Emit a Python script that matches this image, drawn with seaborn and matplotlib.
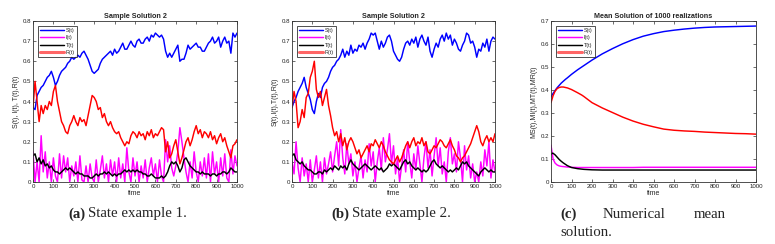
import numpy as np
import pandas as pd
import seaborn as sns
import matplotlib
matplotlib.use("Agg")
import matplotlib.pyplot as plt

# ---------------- data ----------------
t_sample = list(range(0, 1001, 10))

s1_S = [0.37, 0.36, 0.43, 0.45, 0.47, 0.48, 0.50, 0.52, 0.53, 0.55, 0.52, 0.48, 0.50, 0.53, 0.55, 0.56, 0.57, 0.59, 0.60, 0.62,
        0.61, 0.62, 0.63, 0.62, 0.64, 0.65, 0.63, 0.61, 0.58, 0.55, 0.54, 0.55, 0.56, 0.59, 0.61, 0.62, 0.63, 0.64, 0.65, 0.63,
        0.66, 0.64, 0.65, 0.67, 0.69, 0.66, 0.66, 0.68, 0.70, 0.68, 0.67, 0.70, 0.71, 0.69, 0.69, 0.71, 0.72, 0.70, 0.73, 0.72,
        0.74, 0.73, 0.72, 0.73, 0.71, 0.65, 0.62, 0.64, 0.62, 0.64, 0.66, 0.68, 0.60, 0.61, 0.61, 0.64, 0.68, 0.66, 0.67, 0.68,
        0.69, 0.67, 0.67, 0.65, 0.65, 0.67, 0.69, 0.70, 0.72, 0.69, 0.70, 0.72, 0.67, 0.70, 0.72, 0.69, 0.70, 0.64, 0.74, 0.72,
        0.74]
s1_I = [0.15, 0.00, 0.10, 0.00, 0.23, 0.05, 0.15, 0.02, 0.10, 0.00, 0.12, 0.03, 0.00, 0.14, 0.02, 0.13, 0.05, 0.12, 0.00, 0.08,
        0.03, 0.10, 0.00, 0.13, 0.01, 0.00, 0.08, 0.00, 0.09, 0.02, 0.00, 0.11, 0.00, 0.06, 0.13, 0.02, 0.09, 0.00, 0.11, 0.03,
        0.10, 0.00, 0.12, 0.02, 0.09, 0.00, 0.17, 0.05, 0.00, 0.12, 0.03, 0.10, 0.00, 0.08, 0.02, 0.11, 0.00, 0.07, 0.12, 0.03,
        0.09, 0.00, 0.11, 0.03, 0.00, 0.21, 0.10, 0.18, 0.07, 0.03, 0.08, 0.15, 0.27, 0.20, 0.12, 0.05, 0.00, 0.10, 0.02, 0.15,
        0.05, 0.00, 0.10, 0.03, 0.12, 0.02, 0.14, 0.00, 0.15, 0.04, 0.10, 0.00, 0.12, 0.03, 0.14, 0.02, 0.00, 0.16, 0.04, 0.13,
        0.08]
s1_T = [0.13, 0.14, 0.10, 0.12, 0.09, 0.11, 0.08, 0.09, 0.07, 0.08, 0.06, 0.05, 0.05, 0.04, 0.05, 0.06, 0.07, 0.06, 0.07, 0.06,
        0.05, 0.04, 0.05, 0.04, 0.04, 0.03, 0.03, 0.03, 0.02, 0.02, 0.03, 0.04, 0.03, 0.04, 0.04, 0.05, 0.04, 0.05, 0.04, 0.03,
        0.04, 0.03, 0.04, 0.04, 0.05, 0.06, 0.05, 0.06, 0.05, 0.06, 0.05, 0.06, 0.05, 0.05, 0.04, 0.04, 0.03, 0.03, 0.04, 0.03,
        0.02, 0.02, 0.02, 0.03, 0.02, 0.03, 0.05, 0.08, 0.10, 0.09, 0.10, 0.08, 0.05, 0.07, 0.11, 0.12, 0.10, 0.08, 0.07, 0.06,
        0.05, 0.05, 0.04, 0.05, 0.04, 0.04, 0.04, 0.03, 0.04, 0.04, 0.03, 0.04, 0.04, 0.05, 0.05, 0.04, 0.05, 0.07, 0.06, 0.05,
        0.05]
s1_R = [0.37, 0.50, 0.40, 0.30, 0.38, 0.34, 0.38, 0.36, 0.40, 0.38, 0.45, 0.48, 0.40, 0.35, 0.30, 0.28, 0.25, 0.24, 0.28, 0.30,
        0.33, 0.30, 0.28, 0.32, 0.30, 0.31, 0.28, 0.33, 0.38, 0.43, 0.42, 0.40, 0.36, 0.37, 0.32, 0.34, 0.30, 0.28, 0.30, 0.27,
        0.25, 0.24, 0.25, 0.22, 0.20, 0.18, 0.20, 0.19, 0.23, 0.25, 0.24, 0.22, 0.25, 0.23, 0.24, 0.21, 0.25, 0.23, 0.26, 0.22,
        0.24, 0.23, 0.25, 0.27, 0.26, 0.15, 0.20, 0.12, 0.14, 0.18, 0.21, 0.15, 0.09, 0.12, 0.16, 0.20, 0.22, 0.18, 0.21, 0.25,
        0.28, 0.24, 0.26, 0.22, 0.25, 0.24, 0.22, 0.25, 0.21, 0.23, 0.19, 0.22, 0.24, 0.20, 0.22, 0.18, 0.15, 0.12, 0.18, 0.19,
        0.21]

s2_S = [0.37, 0.40, 0.42, 0.45, 0.47, 0.49, 0.52, 0.47, 0.44, 0.41, 0.36, 0.34, 0.40, 0.44, 0.42, 0.47, 0.49, 0.50, 0.52, 0.55,
        0.57, 0.58, 0.60, 0.61, 0.63, 0.66, 0.62, 0.65, 0.63, 0.68, 0.64, 0.66, 0.65, 0.68, 0.67, 0.69, 0.66, 0.69, 0.71, 0.74,
        0.73, 0.74, 0.70, 0.66, 0.70, 0.67, 0.69, 0.72, 0.73, 0.70, 0.65, 0.63, 0.61, 0.60, 0.62, 0.66, 0.69, 0.70, 0.68, 0.71,
        0.69, 0.72, 0.67, 0.71, 0.73, 0.70, 0.68, 0.72, 0.65, 0.62, 0.66, 0.69, 0.67, 0.71, 0.73, 0.70, 0.74, 0.71, 0.73, 0.68,
        0.71, 0.69, 0.66, 0.65, 0.68, 0.70, 0.74, 0.73, 0.69, 0.70, 0.67, 0.62, 0.66, 0.65, 0.69, 0.67, 0.71, 0.65, 0.70, 0.72,
        0.71]
s2_I = [0.10, 0.04, 0.20, 0.07, 0.00, 0.12, 0.03, 0.09, 0.00, 0.11, 0.00, 0.06, 0.13, 0.02, 0.10, 0.00, 0.12, 0.04, 0.09, 0.15,
        0.05, 0.13, 0.20, 0.08, 0.26, 0.12, 0.04, 0.19, 0.09, 0.14, 0.03, 0.10, 0.00, 0.07, 0.13, 0.02, 0.11, 0.05, 0.19, 0.08,
        0.15, 0.00, 0.10, 0.17, 0.06, 0.22, 0.10, 0.16, 0.24, 0.09, 0.18, 0.04, 0.12, 0.00, 0.08, 0.16, 0.05, 0.20, 0.10, 0.02,
        0.14, 0.06, 0.18, 0.09, 0.00, 0.12, 0.20, 0.07, 0.16, 0.03, 0.13, 0.22, 0.08, 0.17, 0.04, 0.10, 0.00, 0.15, 0.22, 0.09,
        0.14, 0.05, 0.20, 0.12, 0.00, 0.18, 0.06, 0.13, 0.02, 0.09, 0.00, 0.05, 0.00, 0.10, 0.03, 0.16, 0.08, 0.20, 0.02, 0.11,
        0.05]
s2_T = [0.13, 0.14, 0.11, 0.10, 0.09, 0.10, 0.08, 0.07, 0.06, 0.06, 0.05, 0.04, 0.04, 0.05, 0.05, 0.04, 0.06, 0.05, 0.06, 0.07,
        0.06, 0.08, 0.07, 0.06, 0.08, 0.07, 0.08, 0.06, 0.09, 0.11, 0.09, 0.08, 0.07, 0.06, 0.07, 0.08, 0.09, 0.08, 0.07, 0.06,
        0.07, 0.08, 0.07, 0.06, 0.07, 0.05, 0.06, 0.07, 0.09, 0.08, 0.09, 0.08, 0.07, 0.06, 0.08, 0.10, 0.11, 0.09, 0.10, 0.08,
        0.07, 0.06, 0.07, 0.06, 0.05, 0.06, 0.05, 0.06, 0.08, 0.10, 0.11, 0.09, 0.08, 0.07, 0.08, 0.07, 0.06, 0.05, 0.06, 0.05,
        0.06, 0.07, 0.06, 0.08, 0.10, 0.09, 0.10, 0.08, 0.07, 0.06, 0.05, 0.04, 0.03, 0.05, 0.06, 0.07, 0.06, 0.05, 0.06, 0.05,
        0.05]
s2_R = [0.37, 0.45, 0.40, 0.27, 0.30, 0.36, 0.32, 0.42, 0.44, 0.52, 0.55, 0.60, 0.46, 0.42, 0.45, 0.38, 0.42, 0.46, 0.38, 0.33,
        0.27, 0.23, 0.25, 0.20, 0.24, 0.18, 0.22, 0.16, 0.20, 0.22, 0.20, 0.17, 0.14, 0.16, 0.12, 0.14, 0.16, 0.18, 0.15, 0.19,
        0.18, 0.21, 0.19, 0.17, 0.20, 0.18, 0.15, 0.13, 0.11, 0.10, 0.09, 0.11, 0.13, 0.10, 0.12, 0.15, 0.18, 0.20, 0.17, 0.20,
        0.22, 0.18, 0.20, 0.19, 0.22, 0.18, 0.20, 0.15, 0.14, 0.16, 0.18, 0.17, 0.19, 0.21, 0.20, 0.18, 0.17, 0.19, 0.21, 0.18,
        0.16, 0.13, 0.12, 0.10, 0.12, 0.13, 0.15, 0.17, 0.19, 0.22, 0.25, 0.28, 0.25, 0.20, 0.18, 0.21, 0.23, 0.20, 0.22, 0.20,
        0.24]

t_mean = [0, 5, 10, 20, 30, 40, 50, 60, 70, 80, 100, 130, 150, 160, 200, 250, 300, 350, 400, 450, 500, 550, 600, 650,
          700, 750, 800, 850, 900, 950, 1000]
m_S = [0.370, 0.378, 0.385, 0.398, 0.410, 0.420, 0.430, 0.438, 0.446, 0.453, 0.468, 0.488, 0.500, 0.506, 0.530, 0.557,
       0.580, 0.601, 0.619, 0.634, 0.645, 0.654, 0.660, 0.665, 0.669, 0.672, 0.674, 0.675, 0.676, 0.677, 0.678]
m_I = [0.160, 0.130, 0.100, 0.082, 0.074, 0.070, 0.068, 0.067, 0.066, 0.065, 0.064, 0.063, 0.063, 0.063, 0.063, 0.063,
       0.063, 0.063, 0.063, 0.064, 0.064, 0.064, 0.064, 0.064, 0.064, 0.064, 0.064, 0.064, 0.064, 0.064, 0.064]
m_T = [0.120, 0.125, 0.125, 0.118, 0.108, 0.098, 0.090, 0.083, 0.077, 0.071, 0.063, 0.058, 0.056, 0.055, 0.053, 0.052,
       0.052, 0.052, 0.052, 0.052, 0.052, 0.052, 0.052, 0.052, 0.052, 0.052, 0.052, 0.052, 0.052, 0.052, 0.052]
m_R = [0.345, 0.360, 0.375, 0.395, 0.406, 0.411, 0.413, 0.413, 0.411, 0.409, 0.402, 0.388, 0.378, 0.372, 0.345, 0.322,
       0.302, 0.282, 0.265, 0.251, 0.240, 0.230, 0.225, 0.222, 0.220, 0.217, 0.215, 0.213, 0.211, 0.210, 0.208]

series_labels = ["S(t)", "I(t)", "T(t)", "R(t)"]
series_colors = ["#0000ff", "#ff00ff", "#000000", "#ff0000"]

titles = ["Sample Solution 2", "Sample Solution 2", "Mean Solution of 1000 realizations"]
ylabels = ["S(t), I(t), T(t),R(t)", "S(t),I(t),T(t),R(t)", "MS(t),MI(t),MT(t),MR(t)"]
ylims = [0.8, 0.8, 0.7]
xticks = list(range(0, 1001, 100))

panels = [
    (t_sample, [s1_S, s1_I, s1_T, s1_R]),
    (t_sample, [s2_S, s2_I, s2_T, s2_R]),
    (t_mean, [m_S, m_I, m_T, m_R]),
]

# ---------------- plotting ----------------
sns.set_style("white")
plt.rcParams["font.family"] = ["Liberation Sans", "DejaVu Sans"]

W, H = 775, 244
fig = plt.figure(figsize=(W / 100, H / 100), dpi=100)

boxes = [(33, 237), (292, 495), (551, 756)]
top_px, bot_px = 21, 182

for k, ((tt, ys), (l, r)) in enumerate(zip(panels, boxes)):
    ax = fig.add_axes([l / W, 1 - bot_px / H, (r - l) / W, (bot_px - top_px) / H])
    for lab, col, y in zip(series_labels, series_colors, ys):
        df = pd.DataFrame({"time": tt, "val": y})
        sns.lineplot(data=df, x="time", y="val", ax=ax, color=col, lw=1.05, label=lab)
    ax.set_xlim(0, 1000)
    ax.set_ylim(0, ylims[k])
    ax.set_xticks(xticks)
    yt = np.round(np.arange(0, ylims[k] + 0.001, 0.1), 1)
    ax.set_yticks(yt)
    ax.set_yticklabels([("0" if v == 0 else f"{v:.1f}") for v in yt])
    ax.tick_params(direction="in", length=2, width=0.5, labelsize=4.4, pad=1.5,
                   top=True, right=True, bottom=True, left=True, colors="#333333", labelcolor="#222222")
    for sp in ax.spines.values():
        sp.set_color("#333333")
        sp.set_linewidth(0.6)
    ax.set_title(titles[k], fontsize=5.2, fontweight="bold", pad=2.5)
    ax.set_xlabel("time", fontsize=5, labelpad=1)
    ax.set_ylabel(ylabels[k], fontsize=5, labelpad=2)
    leg = ax.legend(loc="upper left", fontsize=3.9, frameon=True, fancybox=False,
                    edgecolor="black", handlelength=4.5, handletextpad=0.3,
                    borderpad=0.35, labelspacing=0.45, borderaxespad=0.9)
    leg.get_frame().set_linewidth(0.6)
    lines = leg.get_lines()
    lines[3].set_linewidth(2.2)
    lines[3].set_alpha(0.6)

# ---------------- captions ----------------
serif = ["Liberation Serif", "DejaVu Serif"]
cap_fs = 10.7
cy = 1 - 214 / H
fig.text(68 / W, cy, "(a)", fontsize=cap_fs, fontweight="bold", family=serif, va="center", ha="left")
fig.text(88 / W, cy, "State example 1.", fontsize=cap_fs, family=serif, va="center", ha="left")
fig.text(331 / W, cy, "(b)", fontsize=cap_fs, fontweight="bold", family=serif, va="center", ha="left")
fig.text(352 / W, cy, "State example 2.", fontsize=cap_fs, family=serif, va="center", ha="left")
fig.text(560 / W, cy, "(c)", fontsize=cap_fs, fontweight="bold", family=serif, va="center", ha="left")
fig.text(603 / W, cy, "Numerical", fontsize=cap_fs, family=serif, va="center", ha="left")
fig.text(726 / W, cy, "mean", fontsize=cap_fs, family=serif, va="center", ha="right")
fig.text(560 / W, 1 - 233 / H, "solution.", fontsize=cap_fs, family=serif, va="center", ha="left")

fig.savefig("out.png", dpi=100)
